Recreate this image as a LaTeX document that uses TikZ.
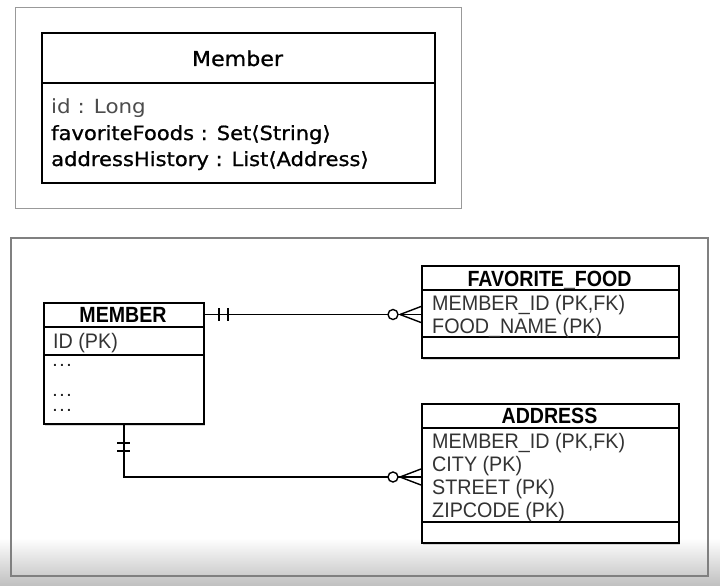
\documentclass[tikz,border=0pt]{standalone}
\usepackage{fontspec}
\usetikzlibrary{calc,shadows}
\newfontfamily\umlfont[FakeStretch=1.1]{DejaVu Sans}
\newfontfamily\umlfontmed[FakeStretch=1.08,FakeBold=0.9]{DejaVu Sans}
\newfontfamily\erfont[FakeStretch=0.94]{Liberation Sans}
\newfontfamily\erdotfont[LetterSpace=22]{Liberation Sans}
\newfontfamily\erheadfont[FakeStretch=0.89]{Liberation Sans}
\begin{document}
\begin{tikzpicture}[x=1pt,y=-1pt,
  panel/.style={draw=black!40, line width=0.9pt},
  umlbox/.style={draw, line width=1.6pt, fill=white, inner sep=0pt, anchor=north west},
  cell/.style={inner sep=0pt, outer sep=0pt, anchor=north west},
  erbox/.style={draw, line width=1.8pt, fill=white, inner sep=0pt, anchor=north west,
    drop shadow={shadow xshift=1.2pt, shadow yshift=-2pt, opacity=0.3}},
  umltitle/.style={font=\umlfontmed\fontsize{20.5}{24}\selectfont, anchor=base, inner sep=0pt},
  umlattr/.style={font=\umlfontmed\fontsize{19.5}{24}\selectfont, anchor=base west, inner sep=0pt},
  umlattrlight/.style={font=\umlfont\fontsize{19.5}{24}\selectfont, text=black!70, anchor=base west, inner sep=0pt},
  erhead/.style={font=\erheadfont\bfseries\fontsize{22}{26}\selectfont, anchor=base, inner sep=0pt},
  erattr/.style={font=\erfont\fontsize{21}{24}\selectfont, text=black!80, anchor=base west, inner sep=0pt},
  erdots/.style={font=\erdotfont\bfseries\fontsize{14}{15}\selectfont, text=black!85, anchor=base west, inner sep=0pt},
  divider/.style={line width=1.6pt},
  conn/.style={line width=1.4pt},
  ]
\useasboundingbox (0,0) rectangle (720,586);
\fill[white] (0,0) rectangle (720,586);
% video-like bottom gradient
\shade[top color=white, bottom color=black!25] (0,538) rectangle (720,586);

% ---------- top panel: UML class ----------
\draw[panel] (15,7) rectangle (461,208);
\node[umlbox, minimum width=393pt, minimum height=150pt] (uml) at (41,32) {};
\node[cell, minimum width=393pt, minimum height=51pt] (umlh) at (41,32) {};
\draw[divider] (umlh.south west) -- (umlh.south east);
\node[umltitle] (umlt) at ($(umlh.south)+(0,-17)$) {Member};
\node[umlattrlight] (ua1) at (51,113) {id : Long};
\node[umlattr] (ua2) at (51,140) {favoriteFoods : Set⟨String⟩};
\node[umlattr] (ua3) at (51,166) {addressHistory : List⟨Address⟩};

% ---------- bottom panel: ER diagram ----------
\draw[draw=black!50, line width=1.3pt] (11,238) rectangle (708,576);

% MEMBER
\node[erbox, minimum width=160pt, minimum height=121pt] (mem) at (43,302) {};
\node[cell, minimum width=160pt, minimum height=25pt] (memh) at (43,302) {};
\node[cell, minimum width=160pt, minimum height=28pt] (memid) at (43,327) {};
\draw[divider] (memh.south west) -- (memh.south east);
\draw[divider] (memid.south west) -- (memid.south east);
\node[erhead] (memt) at ($(memh.south)+(0,-5)$) {MEMBER};
\node[erattr] (m1) at (53,348) {ID (PK)};
\node[erdots] (m2) at (53,366.5) {...};
\node[erdots] (m3) at (53,396.5) {...};
\node[erdots] (m4) at (53,411.5) {...};

% FAVORITE_FOOD
\node[erbox, minimum width=257pt, minimum height=92pt] (ff) at (421,265) {};
\node[cell, minimum width=257pt, minimum height=25pt] (ffh) at (421,265) {};
\node[cell, minimum width=257pt, minimum height=47pt] (ffattr) at (421,290) {};
\draw[divider] (ffh.south west) -- (ffh.south east);
\draw[divider] (ffattr.south west) -- (ffattr.south east);
\node[erhead] (fft) at ($(ffh.south)+(0,-4)$) {FAVORITE\_FOOD};
\node[erattr] (f1) at (432,310) {MEMBER\_ID (PK,FK)};
\node[erattr] (f2) at (432,333) {FOOD\_NAME (PK)};

% ADDRESS
\node[erbox, minimum width=257pt, minimum height=139pt] (ad) at (421,403) {};
\node[cell, minimum width=257pt, minimum height=25pt] (adh) at (421,403) {};
\node[cell, minimum width=257pt, minimum height=94pt] (adattr) at (421,428) {};
\draw[divider] (adh.south west) -- (adh.south east);
\draw[divider] (adattr.south west) -- (adattr.south east);
\node[erhead] (adt) at ($(adh.south)+(0,-5)$) {ADDRESS};
\node[erattr] (a1) at (432,448) {MEMBER\_ID (PK,FK)};
\node[erattr] (a2) at (432,471) {CITY (PK)};
\node[erattr] (a3) at (432,494) {STREET (PK)};
\node[erattr] (a4) at (432,517) {ZIPCODE (PK)};

% connector MEMBER -- FAVORITE_FOOD
\coordinate (e1) at (memh.east);
\coordinate (e2) at (e1 -| ffattr.west);
\draw[conn] (e1) -- (e2);
\draw[conn] ($(e1)+(16,-6.5)$) -- ++(0,13);
\draw[conn] ($(e1)+(25,-6.5)$) -- ++(0,13);
\draw[conn] ($(e2)+(-21,0)$) -- ($(e2)+(0,-8)$);
\draw[conn] ($(e2)+(-21,0)$) -- ($(e2)+(0,8)$);
\draw[conn, fill=white] ($(e2)+(-28,0)$) circle (5pt);

% connector MEMBER -- ADDRESS
\coordinate (s1) at (mem.south);
\coordinate (s2) at ($(adattr.west)+(0,2)$);
\draw[conn] (s1) |- (s2);
\draw[conn] ($(s1)+(-6.5,18)$) -- ++(13,0);
\draw[conn] ($(s1)+(-6.5,26)$) -- ++(13,0);
\draw[conn] ($(s2)+(-21,0)$) -- ($(s2)+(0,-8)$);
\draw[conn] ($(s2)+(-21,0)$) -- ($(s2)+(0,8)$);
\draw[conn, fill=white] ($(s2)+(-28,0)$) circle (5pt);
\end{tikzpicture}
\end{document}
